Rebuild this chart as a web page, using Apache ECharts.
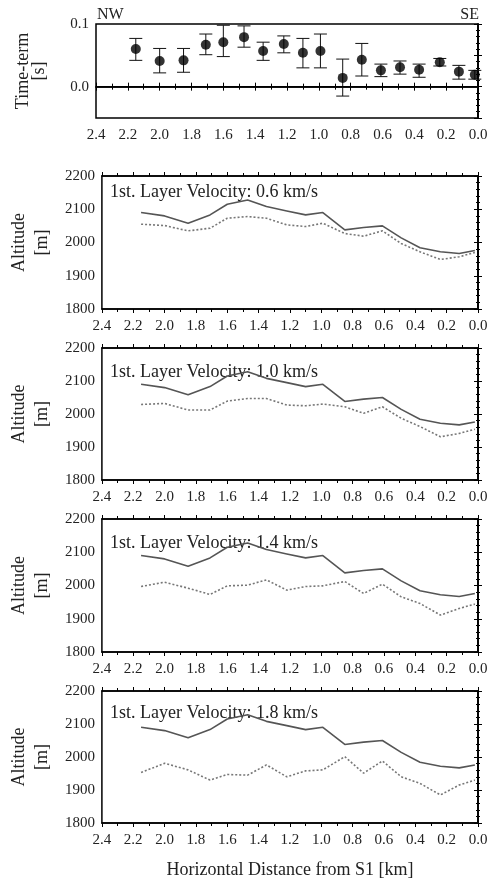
<!DOCTYPE html>
<html>
<head>
<meta charset="utf-8">
<script src="https://cdn.jsdelivr.net/npm/echarts@6/dist/echarts.min.js"></script>
<style>html,body{margin:0;padding:0;background:#fff;}#c{width:491px;height:882px;}</style>
</head>
<body>
<div id="c"></div>
<script>
// ---- data ----
const dist = [2.15, 2.00, 1.85, 1.71, 1.60, 1.47, 1.35, 1.22, 1.10, 0.99, 0.85, 0.73, 0.61, 0.49, 0.37, 0.24, 0.12, 0.02];
const timeTerm = [0.060, 0.041, 0.042, 0.067, 0.071, 0.079, 0.057, 0.068, 0.054, 0.057, 0.014, 0.043, 0.026, 0.031, 0.027, 0.039, 0.024, 0.019];
const ttHigh = [0.077, 0.061, 0.061, 0.084, 0.098, 0.097, 0.071, 0.081, 0.077, 0.084, 0.044, 0.069, 0.036, 0.041, 0.036, 0.045, 0.034, 0.026];
const ttLow = [0.042, 0.022, 0.023, 0.051, 0.048, 0.063, 0.042, 0.054, 0.030, 0.030, -0.015, 0.017, 0.016, 0.020, 0.015, 0.033, 0.012, 0.012];
const topography = [2090, 2080, 2058, 2083, 2115, 2128, 2108, 2095, 2083, 2090, 2038, 2045, 2050, 2014, 1984, 1972, 1967, 1976];
const layer06 = [2055, 2051, 2035, 2043, 2073, 2078, 2073, 2053, 2048, 2058, 2027, 2019, 2035, 1997, 1972, 1949, 1957, 1970];
const layer10 = [2029, 2032, 2012, 2012, 2039, 2047, 2047, 2027, 2025, 2030, 2022, 2002, 2022, 1987, 1962, 1931, 1941, 1954];
const layer14 = [1997, 2010, 1992, 1973, 1999, 2001, 2017, 1986, 1997, 1999, 2012, 1976, 2004, 1966, 1946, 1911, 1931, 1944];
const layer18 = [1953, 1981, 1961, 1930, 1947, 1945, 1976, 1940, 1958, 1961, 2001, 1951, 1988, 1940, 1920, 1885, 1915, 1930];
const velocities = ['0.6', '1.0', '1.4', '1.8'];
const layers = [layer06, layer10, layer14, layer18];
const xTickLabels = ['0.0','0.2','0.4','0.6','0.8','1.0','1.2','1.4','1.6','1.8','2.0','2.2','2.4'];

// ---- layout ----
const FONT = 'Liberation Serif';
const gridTops = [24, 176, 348, 519, 691];
const gridHeights = [94, 133, 132, 133, 132];
const textY = [192, 372, 543, 713];

const grids = gridTops.map((t, i) => ({left: 96, right: 13, top: t, height: gridHeights[i], show: true, borderColor: '#000', borderWidth: 1.5, backgroundColor: 'transparent'}));

const xAxes = [], yAxes = [];
gridTops.forEach((t, i) => {
  const base = {
    gridIndex: i, type: 'value', min: 0, max: 2.4, interval: 0.2, inverse: true,
    axisLine: {show: true, lineStyle: {color: '#000', width: 1.5}},
    axisTick: {show: true, inside: false, length: 4, lineStyle: {color: '#000', width: 1}},
    minorTick: {show: true, splitNumber: 2, length: 3, lineStyle: {color: '#000'}},
    splitLine: {show: false}
  };
  xAxes.push(Object.assign({}, base, {
    position: 'bottom',
    axisLabel: {show: true, margin: 10, fontFamily: FONT, fontSize: 15, color: '#222',
      formatter: v => xTickLabels[Math.round(v * 5)]},
    name: i === 4 ? 'Horizontal Distance from S1 [km]' : '',
    nameLocation: 'middle', nameGap: 38,
    nameTextStyle: {fontFamily: FONT, fontSize: 18, color: '#222'}
  }));
  xAxes.push(Object.assign({}, base, {position: 'top', axisLabel: {show: false}}));

  let yb;
  if (i === 0) {
    yb = {min: -0.05, max: 0.1, interval: 0.05,
      minorTick: {show: true, splitNumber: 5, length: 2, lineStyle: {color: '#000'}}};
  } else {
    yb = {min: 1800, max: 2200, interval: 100,
      minorTick: {show: true, splitNumber: 5, length: 2, lineStyle: {color: '#000'}}};
  }
  const ybase = Object.assign({
    gridIndex: i, type: 'value',
    axisLine: {show: true, lineStyle: {color: '#000', width: 1.5}},
    axisTick: {show: true, inside: false, length: 4, lineStyle: {color: '#000'}},
    splitLine: {show: false}
  }, yb);
  yAxes.push(Object.assign({}, ybase, {
    position: 'left',
    axisLabel: {show: true, margin: 7, fontFamily: FONT, fontSize: 15, color: '#222',
      formatter: v => {
        if (i === 0) { if (Math.abs(v) < 1e-9) return '0.0'; if (Math.abs(v - 0.1) < 1e-9) return '0.1'; return ''; }
        return String(v);
      }},
    name: i === 0 ? 'Time-term\n[s]' : 'Altitude\n[m]',
    nameLocation: 'middle', nameRotate: 90,
    nameGap: i === 0 ? 49 : 45,
    nameTextStyle: i === 0
      ? {fontFamily: FONT, fontSize: 18, color: '#222', lineHeight: 16}
      : {fontFamily: FONT, fontSize: 18, color: '#222', lineHeight: 23}
  }));
  yAxes.push(Object.assign({}, ybase, {position: 'right', axisLabel: {show: false}}));
});

const series = [];
// error bars
series.push({
  type: 'custom', xAxisIndex: 0, yAxisIndex: 0,
  data: dist.map((d, k) => [d, ttLow[k], ttHigh[k]]),
  encode: {x: 0, y: [1, 2]},
  renderItem: (params, api) => {
    const x = api.value(0);
    const p1 = api.coord([x, api.value(2)]);
    const p2 = api.coord([x, api.value(1)]);
    const w = 6.5;
    const st = {stroke: '#111', lineWidth: 1};
    return {type: 'group', children: [
      {type: 'line', shape: {x1: p1[0], y1: p1[1], x2: p2[0], y2: p2[1]}, style: st},
      {type: 'line', shape: {x1: p1[0] - w, y1: p1[1], x2: p1[0] + w, y2: p1[1]}, style: st},
      {type: 'line', shape: {x1: p2[0] - w, y1: p2[1], x2: p2[0] + w, y2: p2[1]}, style: st}
    ]};
  },
  z: 3
});
series.push({
  type: 'scatter', xAxisIndex: 0, yAxisIndex: 0,
  data: dist.map((d, k) => [d, timeTerm[k]]),
  symbol: 'circle', symbolSize: 10,
  itemStyle: {color: '#000'},
  markLine: {silent: true, symbol: 'none', label: {show: false},
    lineStyle: {color: '#000', width: 1, type: 'solid'},
    data: [{yAxis: 0}]},
  z: 4
});
layers.forEach((lay, j) => {
  const gi = j + 1;
  series.push({
    type: 'line', xAxisIndex: gi * 2, yAxisIndex: gi * 2,
    data: dist.map((d, k) => [d, topography[k]]),
    showSymbol: false, symbol: 'none',
    lineStyle: {color: '#555', width: 1.6, type: 'solid'}
  });
  series.push({
    type: 'line', xAxisIndex: gi * 2, yAxisIndex: gi * 2,
    data: dist.map((d, k) => [d, lay[k]]),
    showSymbol: false, symbol: 'none',
    lineStyle: {color: '#777', width: 1.6, type: [2, 2]}
  });
});

const graphic = [
  {type: 'text', left: 97, top: 7, style: {text: 'NW', fontFamily: FONT, fontSize: 16, fill: '#222'}},
  {type: 'text', right: 12, top: 7, style: {text: 'SE', fontFamily: FONT, fontSize: 16, fill: '#222'}}
];
velocities.forEach((v, j) => {
  graphic.push({type: 'text', left: 110, top: textY[j] - 9,
    style: {text: '1st. Layer Velocity: ' + v + ' km/s', fontFamily: FONT, fontSize: 18, fill: '#222'}});
});

const chart = echarts.init(document.getElementById('c'), null, {renderer: 'canvas'});
chart.setOption({
  animation: false,
  backgroundColor: '#fff',
  grid: grids, xAxis: xAxes, yAxis: yAxes, series: series, graphic: graphic
});
</script>
</body>
</html>
